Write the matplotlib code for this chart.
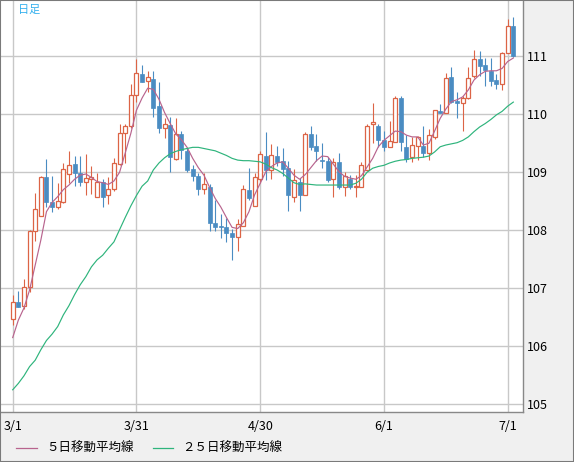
import matplotlib
matplotlib.use('Agg')
import matplotlib.pyplot as plt
from matplotlib.lines import Line2D
from matplotlib.patches import Rectangle
import numpy as np

plt.rcParams['font.family'] = ['Noto Sans CJK JP', 'DejaVu Sans']

# ---- data ----
opens = [106.47, 106.76, 106.69, 107.02, 107.99, 108.24, 108.91, 108.49, 108.40, 108.49,
         108.97, 109.14, 108.98, 108.84, 108.89, 108.58, 108.83, 108.60, 108.71, 109.15,
         109.67, 109.80, 110.34, 110.70, 110.57, 110.61, 110.14, 109.76, 109.82, 109.23,
         109.66, 109.37, 109.06, 108.94, 108.72, 108.74, 108.12, 108.07, 108.05, 107.95,
         107.89, 108.08, 108.70, 108.42, 108.89, 109.28, 109.04, 109.28, 109.20, 109.07,
         108.57, 108.84, 108.60, 109.66, 109.45, 109.22, 109.20, 108.88, 109.17, 108.75,
         108.88, 108.74, 108.75, 109.04, 109.83, 109.80, 109.56, 109.44, 109.53, 110.28,
         109.43, 109.27, 109.46, 109.45, 109.33, 109.60, 110.06, 110.03, 110.64, 110.23,
         110.19, 110.28, 110.66, 110.95, 110.85, 110.75, 110.59, 110.53, 111.06, 111.52]
highs = [106.89, 106.95, 107.16, 108.00, 108.65, 108.94, 109.23, 108.93, 108.82, 109.16,
         109.37, 109.28, 109.28, 109.31, 109.11, 108.98, 108.88, 108.91, 109.24, 109.84,
         109.84, 110.52, 110.95, 110.85, 110.75, 110.75, 110.56, 109.94, 109.96, 109.94,
         109.71, 109.41, 109.13, 108.98, 108.98, 108.80, 108.53, 108.28, 108.22, 108.03,
         108.20, 108.78, 109.07, 108.98, 109.36, 109.70, 109.49, 109.46, 109.41, 109.20,
         109.05, 108.90, 109.69, 109.79, 109.66, 109.51, 109.27, 109.24, 109.33, 109.01,
         108.95, 108.95, 109.18, 109.84, 110.20, 109.84, 109.72, 109.89, 110.32, 110.32,
         109.64, 109.61, 109.63, 109.80, 109.74, 110.07, 110.18, 110.72, 110.81, 110.39,
         110.32, 110.81, 111.11, 111.09, 110.97, 110.97, 110.70, 111.08, 111.64, 111.67]
lows = [106.36, 106.67, 106.64, 106.93, 107.82, 108.24, 108.41, 108.32, 108.36, 108.47,
        108.81, 108.77, 108.76, 108.61, 108.62, 108.58, 108.40, 108.45, 108.67, 109.13,
        109.16, 109.76, 110.22, 110.55, 110.38, 109.96, 109.67, 109.59, 109.00, 109.21,
        109.23, 109.00, 108.85, 108.61, 108.62, 107.99, 107.98, 107.87, 107.80, 107.48,
        107.65, 108.08, 108.53, 108.42, 108.81, 108.87, 108.89, 109.10, 108.93, 108.33,
        108.49, 108.33, 108.60, 109.39, 109.20, 109.07, 108.84, 108.57, 108.72, 108.59,
        108.72, 108.57, 108.74, 109.03, 109.51, 109.43, 109.37, 109.44, 109.52, 109.36,
        109.18, 109.18, 109.21, 109.27, 109.21, 109.58, 110.03, 110.02, 110.20, 109.94,
        109.71, 110.26, 110.62, 110.66, 110.49, 110.48, 110.43, 110.41, 111.05, 110.99]
closes = [106.76, 106.68, 107.02, 107.99, 108.36, 108.91, 108.49, 108.40, 108.51, 109.05,
          109.13, 108.98, 108.84, 108.90, 108.91, 108.83, 108.58, 108.72, 109.16, 109.67,
          109.80, 110.34, 110.71, 110.56, 110.64, 110.11, 109.77, 109.83, 109.27, 109.66,
          109.39, 109.04, 108.93, 108.71, 108.79, 108.13, 108.06, 108.05, 107.95, 107.89,
          108.10, 108.71, 108.56, 108.91, 109.32, 109.04, 109.30, 109.17, 109.06, 108.60,
          108.87, 108.60, 109.66, 109.44, 109.36, 109.19, 108.87, 109.17, 108.74, 108.94,
          108.74, 108.76, 109.12, 109.80, 109.86, 109.55, 109.44, 109.54, 110.28, 109.52,
          109.23, 109.47, 109.60, 109.33, 109.64, 110.07, 110.03, 110.62, 110.22, 110.20,
          110.28, 110.62, 110.95, 110.84, 110.76, 110.58, 110.52, 111.06, 111.52, 111.01]
ma5 = [106.15, 106.45, 106.66, 106.97, 107.40, 107.83, 108.32, 108.48, 108.58, 108.70,
       108.78, 108.88, 108.95, 108.97, 108.91, 108.84, 108.82, 108.79, 108.85, 109.00,
       109.33, 109.67, 110.07, 110.28, 110.45, 110.43, 110.26, 110.03, 109.84, 109.66,
       109.56, 109.43, 109.24, 109.08, 108.95, 108.74, 108.55, 108.40, 108.22, 108.05,
       108.03, 108.13, 108.32, 108.61, 108.81, 109.01, 109.10, 109.16, 109.18, 109.07,
       108.95, 108.88, 108.96, 109.08, 109.20, 109.28, 109.27, 109.14, 109.01, 108.93,
       108.90, 108.88, 108.94, 109.09, 109.24, 109.44, 109.55, 109.63, 109.71, 109.70,
       109.64, 109.61, 109.61, 109.47, 109.50, 109.71, 109.93, 110.09, 110.22, 110.25,
       110.30, 110.42, 110.59, 110.68, 110.74, 110.75, 110.75, 110.79, 110.91, 110.97]
ma25 = [105.25, 105.36, 105.49, 105.65, 105.76, 105.94, 106.10, 106.21, 106.34, 106.54,
        106.70, 106.89, 107.06, 107.20, 107.37, 107.49, 107.57, 107.69, 107.80, 108.01,
        108.22, 108.42, 108.60, 108.76, 108.85, 109.04, 109.16, 109.25, 109.32, 109.36,
        109.39, 109.41, 109.43, 109.43, 109.41, 109.39, 109.37, 109.33, 109.29, 109.24,
        109.21, 109.20, 109.20, 109.19, 109.18, 109.14, 109.08, 109.04, 108.98, 108.90,
        108.82, 108.79, 108.80, 108.79, 108.78, 108.78, 108.78, 108.78, 108.78, 108.78,
        108.78, 108.81, 108.88, 109.00, 109.07, 109.10, 109.12, 109.16, 109.19, 109.21,
        109.22, 109.24, 109.25, 109.26, 109.28, 109.35, 109.44, 109.47, 109.49, 109.51,
        109.55, 109.61, 109.70, 109.78, 109.84, 109.91, 109.99, 110.05, 110.14, 110.21]
tick_pos = [0, 22, 44, 66, 88]
tick_labels = ['3/1', '3/31', '4/30', '6/1', '7/1']
y_ticks = [105, 106, 107, 108, 109, 110, 111]
legend_labels = ['５日移動平均線', '２５日移動平均線']

UP = '#dc6446'
DOWN = '#4a8cc2'
C_MA5 = '#b8648e'
C_MA25 = '#2eb47c'

W, H = 574, 462
fig = plt.figure(figsize=(W / 100, H / 100), dpi=100, facecolor='#f0f0f0')
ax = fig.add_axes([1 / W, (H - 412) / H, 522 / W, 411 / H])
ax.set_facecolor('white')

x = np.arange(len(opens))
o = np.array(opens); c = np.array(closes); h = np.array(highs); l = np.array(lows)
up = c >= o
colors = np.where(up, UP, DOWN)

ax.vlines(x, l, h, colors=colors, linewidth=0.8, zorder=2)
bw = 0.72
body_bottom = np.minimum(o, c)
body_h = np.maximum(np.abs(c - o), 0.02)
ax.bar(x[up], body_h[up], bottom=body_bottom[up], width=bw, facecolor='white',
       edgecolor=UP, linewidth=0.9, zorder=3)
ax.bar(x[~up], body_h[~up], bottom=body_bottom[~up], width=bw, facecolor=DOWN,
       edgecolor=DOWN, linewidth=0.5, zorder=3)

ax.plot(x, ma5, color=C_MA5, linewidth=0.85, zorder=4)
ax.plot(x, ma25, color=C_MA25, linewidth=0.85, zorder=4)

ax.set_xlim(-2.08, 90.72)
ax.set_ylim(104.867, 111.953)

ax.set_xticks(tick_pos)
ax.set_xticklabels(tick_labels)
ax.set_yticks(y_ticks)
ax.set_yticklabels([str(v) for v in y_ticks])
ax.yaxis.tick_right()
ax.tick_params(axis='both', length=0, labelsize=9, colors='black')
ax.tick_params(axis='x', pad=6)
ax.tick_params(axis='y', pad=2.5)
ax.set_axisbelow(True)
ax.grid(True, color='#c8c8c8', linewidth=1.0)

for side in ['left', 'top']:
    ax.spines[side].set_visible(False)
for side in ['right', 'bottom']:
    ax.spines[side].set_color('#888888')
    ax.spines[side].set_linewidth(1.0)

ax.text(17 / 522, 1 - 4 / 411, '日足', transform=ax.transAxes, ha='left', va='top',
        fontsize=8, color='#33b0ee')

# legend drawn along the bottom strip
def fx(px):
    return px / W

def fy(py):
    return 1 - py / H

ly = 448
fig.add_artist(Line2D([fx(16), fx(37)], [fy(ly), fy(ly)], color=C_MA5, linewidth=0.9))
fig.text(fx(46), fy(ly), legend_labels[0], ha='left', va='center', fontsize=9)
fig.add_artist(Line2D([fx(153), fx(173)], [fy(ly), fy(ly)], color=C_MA25, linewidth=0.9))
fig.text(fx(182), fy(ly), legend_labels[1], ha='left', va='center', fontsize=9)

fig.add_artist(Rectangle((0, 0), 1, 1, transform=fig.transFigure, fill=False,
                         edgecolor='#7a7a7a', linewidth=1.5))

fig.savefig('out.png', dpi=100, facecolor=fig.get_facecolor())
